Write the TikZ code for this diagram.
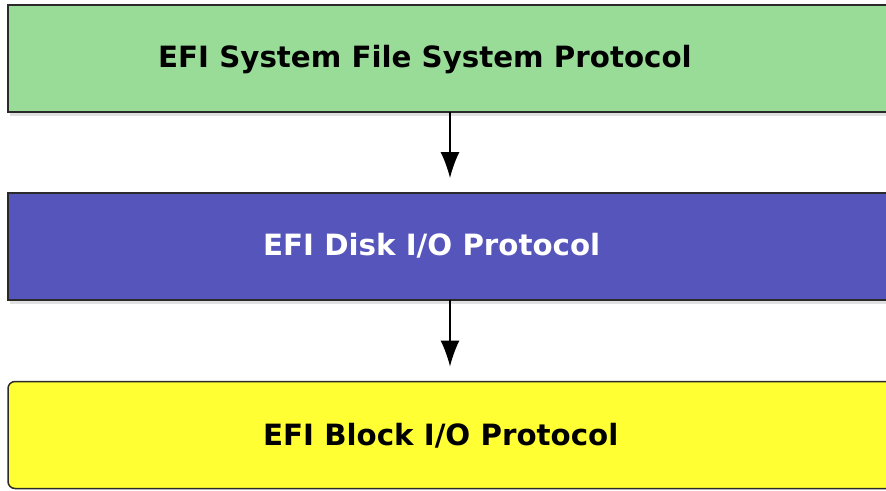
\documentclass[tikz,border=0pt]{standalone}
\usepackage{fontspec}
\setmainfont{DejaVu Sans}
\usetikzlibrary{arrows.meta}
\definecolor{boxgreen}{HTML}{98DC98}
\definecolor{boxblue}{HTML}{5555BB}
\definecolor{boxyellow}{HTML}{FFFF33}
\definecolor{boxline}{HTML}{2A2A2A}
\begin{document}
\begin{tikzpicture}[x=1pt,y=-1pt,
  layerbox/.style={draw=boxline,line width=1.5pt,minimum width=892pt,minimum height=107pt,inner sep=0pt,outer sep=0pt},
  boxlabel/.style={anchor=base west,inner sep=0pt,font=\bfseries\fontsize{29.3}{32}\selectfont},
  flow/.style={draw=black,line width=1.3pt,-{Latex[length=26pt,width=19pt]},shorten >=15pt}]
\useasboundingbox (0,0) rectangle (886,490);
\fill[white] (0,0) rectangle (886,490);
% soft shadows
\fill[black,opacity=0.12] (10,8) rectangle (905,116);
\fill[black,opacity=0.12] (10,196) rectangle (905,304);
\node[layerbox,fill=boxgreen] (fs) at (454,58.5) {};
\node[layerbox,fill=boxblue] (disk) at (454,246.5) {};
\node[layerbox,fill=boxyellow,rounded corners=7pt] (block) at (454,435) {};
\node[boxlabel,text=black] (fst) at (158,67) {EFI System File System Protocol};
\node[boxlabel,text=white] (diskt) at (263,255) {EFI Disk I/O Protocol};
\node[boxlabel,text=black] (blockt) at (263,445) {EFI Block I/O Protocol};
\coordinate (ax) at (450,0);
\draw[flow] (fs.south -| ax) -- (disk.north -| ax);
\draw[flow] (disk.south -| ax) -- (block.north -| ax);
\end{tikzpicture}
\end{document}
